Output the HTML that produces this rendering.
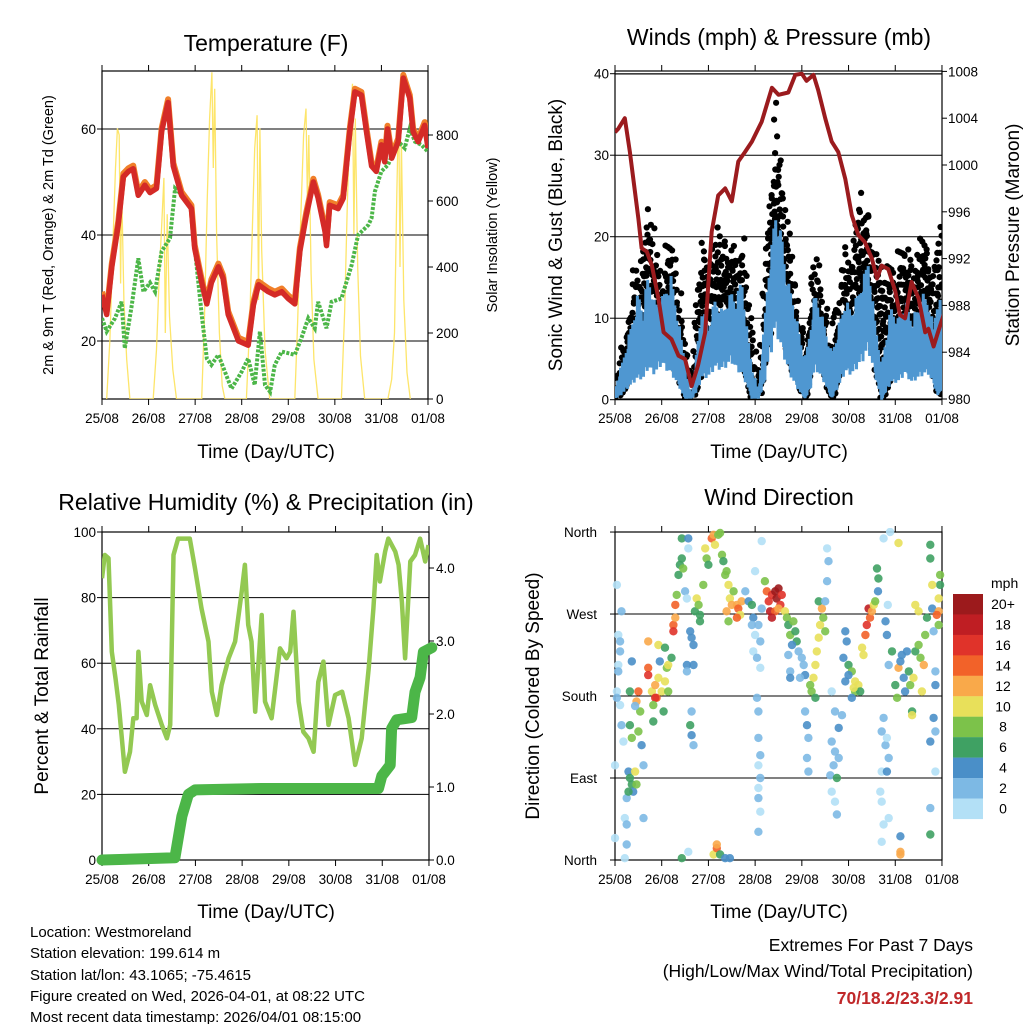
<!DOCTYPE html>
<html><head><meta charset="utf-8"><style>
html,body{margin:0;padding:0;background:#fff}
svg{display:block;font-family:"Liberation Sans",Arial,sans-serif}
</style></head><body>
<svg id="chart" width="1024" height="1024" viewBox="0 0 1024 1024" xmlns="http://www.w3.org/2000/svg">
<defs>
<clipPath id="c1"><rect x="102" y="71" width="326" height="328"/></clipPath>
<clipPath id="c2"><rect x="615" y="71" width="327" height="329"/></clipPath>
<clipPath id="c3"><rect x="102" y="532" width="327" height="328"/></clipPath>
<clipPath id="c4"><rect x="611" y="528" width="335" height="336"/></clipPath>
</defs>
<g id="layer"></g>
<text x="266" y="51" font-size="23" text-anchor="middle">Temperature (F)</text>
<text x="779" y="45" font-size="23" text-anchor="middle">Winds (mph) &amp; Pressure (mb)</text>
<text x="266" y="510" font-size="23" text-anchor="middle">Relative Humidity (%) &amp; Precipitation (in)</text>
<text x="779" y="505" font-size="23" text-anchor="middle">Wind Direction</text>
<text x="266" y="458" font-size="19" text-anchor="middle">Time (Day/UTC)</text>
<text x="779" y="458" font-size="19" text-anchor="middle">Time (Day/UTC)</text>
<text x="266" y="918" font-size="19" text-anchor="middle">Time (Day/UTC)</text>
<text x="779" y="918" font-size="19" text-anchor="middle">Time (Day/UTC)</text>
<text transform="translate(53,235) rotate(-90)" font-size="14.5" text-anchor="middle">2m &amp; 9m T (Red, Orange) &amp; 2m Td (Green)</text>
<text transform="translate(497,235) rotate(-90)" font-size="14.5" text-anchor="middle">Solar Insolation (Yellow)</text>
<text transform="translate(562,235) rotate(-90)" font-size="19" text-anchor="middle">Sonic Wind &amp; Gust (Blue, Black)</text>
<text transform="translate(1019,235) rotate(-90)" font-size="19" text-anchor="middle">Station Pressure (Maroon)</text>
<text transform="translate(48,696) rotate(-90)" font-size="19" text-anchor="middle">Percent &amp; Total Rainfall</text>
<text transform="translate(539,696) rotate(-90)" font-size="19" text-anchor="middle">Direction (Colored By Speed)</text>
<g font-size="15">
<text x="30" y="937">Location: Westmoreland</text>
<text x="30" y="958">Station elevation: 199.614 m</text>
<text x="30" y="980">Station lat/lon: 43.1065; -75.4615</text>
<text x="30" y="1001">Figure created on Wed, 2026-04-01, at 08:22 UTC</text>
<text x="30" y="1022">Most recent data timestamp: 2026/04/01 08:15:00</text>
</g>
<g font-size="17.5" text-anchor="end">
<text x="973" y="951">Extremes For Past 7 Days</text>
<text x="973" y="977">(High/Low/Max Wind/Total Precipitation)</text>
<text x="973" y="1004" fill="#c0282a" font-weight="bold">70/18.2/23.3/2.91</text>
</g>
</svg>
<script>
// ---------- data ----------
const dayLabels=["25/08","26/08","27/08","28/08","29/08","30/08","31/08","01/08"];
const tempDay=[0,0.10,0.21,0.35,0.46,0.57,0.67,0.78,0.92,1.03,1.17,1.28,1.42,1.53,1.71,1.92,1.99,2.14,2.25,2.35,2.50,2.60,2.71,2.93,3.14,3.25,3.36,3.57,3.71,3.86,4.00,4.14,4.25,4.39,4.54,4.64,4.79,4.82,4.89,5.07,5.18,5.32,5.43,5.57,5.68,5.79,5.89,6.00,6.07,6.13,6.22,6.36,6.47,6.61,6.68,6.79,6.93,7.00];
const temp2m=[28.7,25,34,42,51,52,52.5,47.5,49.4,48,48.8,59.5,65,53,47.5,45,37.5,31,27,31,34,31.8,25,20,19.2,26.8,30.6,29.3,28.7,29.3,28,27,37,43.8,50,47,40.6,38,45.6,45,46.9,59.5,67,66.4,59.5,53,52,57,53.8,60,54.5,57.6,69.6,65.8,59.5,57.6,60.7,56.4];
const dewDay=[0,0.10,0.28,0.42,0.49,0.64,0.78,0.89,1.03,1.14,1.28,1.46,1.57,1.78,1.92,2.00,2.14,2.25,2.35,2.50,2.64,2.78,3.00,3.14,3.28,3.39,3.50,3.61,3.71,3.86,4.14,4.28,4.43,4.57,4.64,4.82,4.93,5.14,5.36,5.50,5.72,5.79,5.86,6.00,6.14,6.36,6.50,6.61,6.72,6.86,7.00];
const dewVal=[24.3,21.8,24.3,27.4,18.6,26.8,35.6,29.3,31,29.3,36.9,39.4,48.8,47,45,36.9,25,16.7,15.5,17.4,14.2,11,14.2,16.7,11.7,21.8,11.7,10.4,15.5,18,17.4,20.5,24.3,22.4,27.4,22.4,27.4,28,34.3,40,41.9,43.2,48.2,52,53.2,57.6,56.4,60.1,57.6,57,55.7];
const solarDay=[0.10,0.17,0.23,0.29,0.33,0.37,0.40,0.42,0.47,0.53,0.60, 1.10,1.17,1.23,1.28,1.33,1.36,1.40,1.45,1.52,1.60, 2.14,2.20,2.26,2.31,2.36,2.39,2.42,2.46,2.52,2.58,2.64, 3.10,3.17,3.23,3.28,3.33,3.36,3.39,3.43,3.50,3.60, 4.14,4.20,4.27,4.33,4.38,4.41,4.44,4.49,4.55,4.64, 5.14,5.21,5.27,5.33,5.38,5.41,5.44,5.49,5.55,5.64, 6.14,6.22,6.28,6.33,6.37,6.40,6.43,6.48,6.55,6.62];
const solarVal=[0,180,450,700,820,800,350,650,300,120,0, 0,150,380,520,670,200,560,250,90,0, 0,250,600,850,990,700,940,500,200,40,0, 0,220,520,760,860,300,820,450,150,0, 0,230,560,800,880,600,800,380,120,0, 0,260,600,860,955,500,850,400,130,0, 0,60,200,620,895,400,780,300,80,0];
const windDay=[0,0.07,0.14,0.30,0.50,0.60,0.71,0.85,1.00,1.10,1.21,1.35,1.50,1.57,1.64,1.75,1.86,2.00,2.14,2.30,2.50,2.60,2.71,2.82,2.93,3.07,3.18,3.28,3.36,3.43,3.50,3.57,3.67,3.78,3.92,4.07,4.18,4.28,4.45,4.64,4.78,4.93,5.07,5.21,5.32,5.42,5.56,5.71,5.80,5.92,6.06,6.21,6.35,6.50,6.60,6.71,6.82,6.92,7.0];
const sonicHi=[1.4,3,4.3,8,13.3,11,15.7,12,12.4,14,15.3,10,5.1,2,0.5,6,11.6,9,12.4,11,13.3,12,15.7,9,4.3,1,8,15.7,19,23.5,21,20.6,15,13.3,9,5.1,9,13.3,10,5.9,9,12.4,11,13.3,15,17.3,10,4.3,8,11.6,10,12.4,10,11.6,13,12.4,9,14.5,10];
const sonicLo=[0.2,0.5,1,2.5,4.3,4,6.3,5,7.1,6,5.1,3,0.2,0.2,0.2,1.5,4.3,4.5,6.3,6,7.5,6,5.1,3,0.2,0.2,2.5,7.5,10,14.5,12,10,7,4.3,2,0.2,2,6.3,4,0.2,2.5,5.5,5,6.7,8,10,5,0,1.5,3.4,3.5,5.1,3.5,4.3,5,5.1,3,0.6,2];
const gustHi=[2.2,4,5.1,12,18.2,17,24.7,19,16.5,19,21,14,8.3,4,2.2,12,20.6,18,23.1,20,19.8,18,22.2,14,9.2,2.6,12,23.5,30,38.2,32,26.7,22,18.2,12,7.1,14,19,14,5.9,14,19,17,25.9,22,25.9,18,16.5,16,17.8,18,21,17,19,20,20.6,16,21.4,18];
const presDay=[0,0.07,0.21,0.32,0.50,0.57,0.68,0.79,0.93,1.04,1.21,1.36,1.50,1.64,1.78,1.93,2.07,2.21,2.36,2.50,2.64,2.78,2.93,3.14,3.36,3.50,3.71,3.86,4.00,4.10,4.25,4.35,4.50,4.64,4.78,4.93,5.07,5.21,5.35,5.50,5.61,5.71,5.85,6.00,6.10,6.21,6.35,6.50,6.64,6.71,6.82,6.93,7.07];
const presVal=[1002.8,1003.1,1004,1001.1,995.4,992.9,992.6,991.4,988.6,985.7,985.1,983.7,983.4,981.1,982.9,985.7,994.3,997.4,998,996.9,1000.3,1001.1,1002,1003.7,1006.6,1006,1006.2,1007.7,1007.8,1007.2,1007.7,1006.4,1004,1002,1001.1,998.8,995.7,994,993.4,992,990.3,991.4,991.1,989.2,987.2,986.9,990,988.6,985.7,986,984.5,985.9,987.6];
const rhDay=[0,0.06,0.14,0.21,0.29,0.36,0.49,0.60,0.67,0.74,0.78,0.85,0.96,1.03,1.14,1.28,1.39,1.46,1.53,1.63,1.88,1.99,2.13,2.28,2.35,2.46,2.56,2.71,2.85,2.99,3.06,3.13,3.20,3.28,3.42,3.49,3.63,3.70,3.81,3.95,4.03,4.10,4.21,4.31,4.42,4.53,4.63,4.74,4.85,4.99,5.14,5.28,5.42,5.56,5.71,5.81,5.88,5.95,6.06,6.13,6.28,6.35,6.42,6.49,6.60,6.70,6.81,6.92,6.99];
const rhVal=[85.9,93,92,63.5,55.4,47.3,26.9,33,43.2,43.2,63.5,48.3,44.2,53.3,47.3,41.2,37.1,41.2,93,98,98,88.9,76.7,66.6,51.3,44.2,53.3,61.5,66.6,81.8,90,71.7,66.6,45.2,74.7,48.3,43.2,51.3,64.5,61.5,63.5,75.7,48.3,39.1,37.1,33,54.3,60.5,41.2,50.3,51.3,43.2,29,37.1,58.4,76.7,93,84.9,94,98,94,90,78.7,61.5,91,93,98,91,96];
const rainDay=[0,1.56,1.71,1.85,1.99,3.42,5.92,5.99,6.17,6.20,6.31,6.63,6.70,6.81,6.88,7.06];
const rainVal=[0,0.03,0.6,0.9,0.96,0.98,0.98,1.15,1.3,1.8,1.92,1.95,2.3,2.5,2.85,2.91];
const dirDay=[0.04,0.07,0.11,0.07,0.04,0.11,0.14,0.0,0.18,0.21,0.25,0.25,0,0.21,0.14,0.11,0.07,0.04,
0.32,0.36,0.29,0.32,0.36,0.43,0.39,0.46,0.25,0.29,0.5,0.54,0.5,0.46,0.57,0.61,0.61,0.36,0.32,0.43,
0.71,0.71,0.71,0.79,0.86,0.93,0.89,0.86,0.82,1.0,1.07,1.11,1.14,0.96,0.93,1.04,0.82,1.14,1.21,1.07,
1.25,1.25,1.29,1.29,1.32,1.36,1.39,1.43,1.43,1.46,1.5,1.54,1.57,1.57,1.61,1.64,1.68,1.71,1.75,1.79,1.82,1.82,1.54,1.68,1.54,1.64,1.61,1.68,1.64,1.57,1.43,
1.89,1.93,1.96,2.0,2.07,2.11,2.14,2.21,2.25,2.29,2.32,2.36,2.39,2.43,2.46,2.39,2.43,2.5,2.54,2.61,2.64,2.71,2.68,2.61,2.11,2.18,2.25,2.36,2.46,2.18,
2.79,2.86,2.93,2.96,2.93,3.0,2.96,3.04,3.11,3.14,3.07,3.04,3.07,3.07,3.11,3.07,3.11,3.07,3.07,3.11,3.07,3.0,3.11,
3.21,3.25,3.29,3.32,3.36,3.43,3.46,3.5,3.54,3.57,3.43,3.36,3.5,3.64,3.68,3.71,3.75,3.82,3.86,3.89,3.79,3.71,3.75,3.75,3.14,
3.93,4.0,4.04,4.07,3.96,4.07,4.11,4.14,4.11,4.14,4.21,4.25,4.29,4.32,4.36,4.39,4.43,4.46,4.5,4.36,4.29,4.18,
4.54,4.57,4.54,4.5,4.64,4.71,4.79,4.64,4.71,4.68,4.61,4.75,4.64,4.71,4.75,4.79,4.86,4.93,4.96,4.89,5.0,5.07,5.14,5.21,5.14,5.07,5.25,4.93,5.0,5.11,
5.29,5.32,5.36,5.39,5.43,5.46,5.5,5.54,5.57,5.61,5.64,5.63,5.71,5.75,5.79,5.86,5.82,5.71,5.68,5.71,5.86,5.82,5.71,5.75,5.79,5.82,5.84,5.75,5.89,5.86,5.93,
6.0,6.04,6.07,6.11,6.14,6.18,6.21,6.25,6.29,6.32,6.36,6.36,6.39,6.43,6.5,6.54,6.61,6.57,6.64,6.68,6.75,6.75,6.79,6.82,6.86,6.86,6.82,6.86,6.75,6.86,6.93,6.93,6.96,6.93,6.89,6.96,6.79,6.07,6.11,6.11,6.11,6.75,6.75,6.5,6.43];
const dirDeg=[302,247,229,214,185,170,148,104,130,46,39,17,24,2,273,240,207,178,
148,134,97,90,83,97,75,83,68,75,141,163,185,174,126,104,46,218,185,169,
240,211,203,185,192,200,178,178,170,185,196,211,214,218,236,163,152,185,222,233,
258,251,280,266,291,313,324,331,353,320,295,287,353,342,251,244,236,273,287,280,269,262,214,214,207,163,148,126,137,9,2,
302,342,331,324,353,357,346,357,359,335,328,313,317,302,287,273,262,280,295,280,276,284,269,266,6,13,6,2,2,17,
295,284,280,266,258,247,229,222,211,350,258,178,163,134,115,104,90,79,68,53,31,317,240,
306,295,284,273,291,295,287,298,280,291,273,266,276,273,266,258,247,262,251,240,236,225,207,200,276,
229,222,214,203,200,163,148,134,112,97,185,200,214,229,244,258,276,266,251,284,178,192,
342,328,306,284,185,163,145,130,119,104,93,90,75,64,50,112,159,251,240,222,214,207,196,192,185,178,185,196,203,189,
233,225,247,258,276,266,273,280,284,320,309,295,141,156,126,112,134,97,75,64,46,97,20,39,262,247,280,353,360,214,229,
192,178,211,218,225,200,185,229,207,192,163,159,200,229,236,222,214,185,247,266,331,346,276,251,207,192,156,141,130,97,258,287,302,273,269,313,302,348,9,6,26,28,57,273,280];
const dirSpd=[1,1,2,1,1,1,2,1,1,1,3,3,1,1,2,3,2,2,
7,8,5,7,7,10,5,8,3,7,8,8,15,12,5,3,2,5,7,3,
12,15,16,10,12,10,14,16,8,11,10,8,10,5,11,7,7,8,7,7,
14,16,15,12,8,7,7,6,7,8,3,1,4,1,4,5,4,7,11,8,7,7,4,4,3,2,7,2,4,1,7,
8,11,8,7,14,12,10,8,8,8,7,8,9,10,11,13,8,12,9,13,14,12,10,14,11,14,7,5,5,12,
3,5,7,4,3,1,1,2,1,1,2,2,2,2,2,1,2,1,2,1,3,1,3,
8,15,16,18,17,21,21,20,17,16,14,18,13,10,8,7,8,8,7,7,5,3,3,5,3,
2,2,3,4,3,2,4,3,2,2,8,10,11,10,10,11,12,9,8,7,7,8,
1,2,3,3,1,2,4,2,2,2,3,7,1,1,2,3,2,5,4,4,7,8,10,11,8,4,7,4,4,11,
11,10,15,16,18,14,12,10,8,6,7,5,3,2,2,2,1,1,1,1,1,5,1,1,4,5,1,1,1,2,7,
7,8,13,5,4,4,5,4,7,8,6,10,10,7,9,9,12,11,8,7,6,6,4,3,2,4,4,2,4,1,9,10,7,13,14,8,10,11,13,12,5,6,2,11,10];
const speedLabels=["20+","18","16","14","12","10","8","6","4","2","0"];
const speedColors=["#9c1a1c","#bf1e23","#e0332a","#f26229","#f9a94a","#e8e05a","#7cc24a","#3fa163","#4a8fc8","#7db9e4","#b3e0f6"];
const dirLabels=["North","East","South","West","North"];
const dirTicks=[0,90,180,270,360];

// ---------- helpers ----------
const NS="http://www.w3.org/2000/svg";
const root=document.getElementById('layer');
function mk(tag,attrs,parent){const e=document.createElementNS(NS,tag);for(const k in attrs)e.setAttribute(k,attrs[k]);(parent||root).appendChild(e);return e;}
const x1=d=>102+d*46.57, yT=t=>447-5.3*t, yS=s=>399-0.33*s;
const x2=d=>615+d*46.71, yW=w=>399.7-8.15*w, yP=p=>399-(p-980)*11.7;
const x3=d=>102+d*46.71, yR=r=>860-3.28*r, yPr=p=>860-73*p;
const x4=d=>615+d*46.71, yD=g=>860-0.911*g;
function interp(xs,ys,x){if(x<=xs[0])return ys[0];for(let i=1;i<xs.length;i++){if(x<=xs[i]){const f=(x-xs[i-1])/(xs[i]-xs[i-1]);return ys[i-1]+f*(ys[i]-ys[i-1]);}}return ys[ys.length-1];}
function pathOf(xs,ys,fx,fy){return xs.map((v,i)=>(i?'L':'M')+fx(v).toFixed(1)+' '+fy(ys[i]).toFixed(1)).join('');}

function frame(name,L,T,R,B,xf){
  const g=mk('g',{});
  
  
  mk('rect',{x:L,y:T,width:R-L,height:B-T,fill:'none',stroke:'#000','stroke-width':1.2},g);
  dayLabels.forEach((lab,i)=>{const x=xf(i);
    mk('line',{x1:x,y1:B,x2:x,y2:B+6,stroke:'#000'},g);
    mk('line',{x1:x,y1:T,x2:x,y2:T-6,stroke:'#000'},g);
    const t=mk('text',{x:x,y:B+24,'font-size':13.5,'text-anchor':'middle'},g);t.textContent=lab;
    
    
  });
  return g;
}
function yAxis(g,vals,labs,fy,L,R,side,x,grid){
  vals.forEach((v,i)=>{const y=fy(v);
    if(grid) mk('line',{x1:L,y1:y,x2:R,y2:y,stroke:'#000','stroke-width':1},g);
    const tx=side==='l'?L:R;
    mk('line',{x1:tx,y1:y,x2:side==='l'?tx-5:tx+5,y2:y,stroke:'#000'},g);
    const t=mk('text',{x:x,y:y+5,'font-size':13.5,'text-anchor':side==='l'?'end':'start'},g);t.textContent=labs[i];
    
    
  });
}

// ---------- panel 1: temperature ----------
const g1=frame('temperature',102,71,428,399,x1);
yAxis(g1,[20,40,60],["20","40","60"],yT,102,428,'l',96,true);
yAxis(g1,[0,200,400,600,800],["0","200","400","600","800"],yS,102,428,'r',436,false);
const p1=mk('g',{'clip-path':'url(#c1)'});


const sol=mk('path',{d:pathOf(solarDay,solarVal,x1,yS),fill:'none',stroke:'#fde25a','stroke-width':1.3,opacity:0.9},p1);


const dew=mk('path',{d:pathOf(dewDay,dewVal,x1,yT),fill:'none',stroke:'#4cb648','stroke-width':4,'stroke-dasharray':'3 1.5'},p1);


const t9=mk('path',{d:pathOf(tempDay,temp2m.map(v=>v+0.6),x1,yT),fill:'none',stroke:'#f07f2a','stroke-width':6,'stroke-linejoin':'round'},p1);


const t2=mk('path',{d:pathOf(tempDay,temp2m,x1,yT),fill:'none',stroke:'#d42a27','stroke-width':5.5,'stroke-linejoin':'round'},p1);



// ---------- panel 2: winds ----------
const g2=frame('winds',615,71,942,399,x2);
yAxis(g2,[0,10,20,30,40],["0","10","20","30","40"],yW,615,942,'l',609,true);
yAxis(g2,[980,984,988,992,996,1000,1004,1008],["980","984","988","992","996","1000","1004","1008"],yP,615,942,'r',948,false);
const p2=mk('g',{'clip-path':'url(#c2)'});


const gustG=mk('g',{fill:'#000'},p2);


let k=0;
for(let d=0;d<=7;d+=0.025){
  const lo=interp(windDay,sonicLo,d), gu=interp(windDay,gustHi,d);
  const top=lo+(gu-lo)*(0.6+0.4*((k*37)%11)/10);
  const n=Math.max(1,Math.round((top-lo)/2));
  for(let j=0;j<=n;j++){k++;
    const w=lo+(top-lo)*j/n;
    const c=mk('circle',{cx:(x2(d)+((k*7)%5)-2).toFixed(1),cy:yW(w).toFixed(1),r:3.1},gustG);
    
    
  }
}
let zz='';let idx=0;
for(let d=0;d<=7;d+=0.01){idx++;
  const lo=interp(windDay,sonicLo,d), hi=interp(windDay,sonicHi,d);
  const v=idx%2?lo+(hi-lo)*(0.5+0.5*((idx*29)%9)/8):lo*(0.6+0.4*((idx*13)%7)/6);
  zz+=(idx===1?'M':'L')+x2(d).toFixed(1)+' '+yW(v).toFixed(1);
}
const son=mk('path',{d:zz,fill:'none',stroke:'#4f97d1','stroke-width':3},p2);


const pr=mk('path',{d:pathOf(presDay,presVal,x2,yP),fill:'none',stroke:'#9b1b1e','stroke-width':4,'stroke-linejoin':'round'},p2);


mk('line',{x1:615,y1:74,x2:942,y2:74,stroke:'#000'},g2);

// ---------- panel 3: humidity ----------
const g3=frame('humidity',102,532,429,860,x3);
yAxis(g3,[0,20,40,60,80,100],["0","20","40","60","80","100"],yR,102,429,'l',96,true);
yAxis(g3,[0,1,2,3,4],["0.0","1.0","2.0","3.0","4.0"],yPr,102,429,'r',436,false);
const p3=mk('g',{'clip-path':'url(#c3)'});


const rh=mk('path',{d:pathOf(rhDay,rhVal,x3,yR),fill:'none',stroke:'#93c952','stroke-width':4.5,'stroke-linejoin':'round'},p3);


const rn=mk('path',{d:pathOf(rainDay,rainVal,x3,yPr),fill:'none',stroke:'#4cb648','stroke-width':11,'stroke-linejoin':'round','stroke-linecap':'round'},g3);



// ---------- panel 4: direction ----------
const g4=frame('direction',615,532,942,860,x4);
yAxis(g4,dirTicks,dirLabels,yD,615,942,'l',597,true);
const p4=mk('g',{'clip-path':'url(#c4)'});


function spdColor(s){let b=Math.min(10,Math.floor(s/2));return speedColors[10-b];}
dirDay.forEach((d,i)=>{
  const c=mk('circle',{cx:x4(d).toFixed(1),cy:yD(Math.min(360,dirDeg[i])).toFixed(1),r:4.2,fill:spdColor(dirSpd[i]),opacity:0.9},p4);
  
  
});
const cb=mk('g',{});


const cbT=mk('text',{x:991,y:588,'font-size':14},cb);cbT.textContent='mph';
speedLabels.forEach((lab,i)=>{
  const r=mk('rect',{x:953,y:594+i*20.45,width:30,height:20.6,fill:speedColors[i]},cb);
  
  
  const t=mk('text',{x:1003,y:594+i*20.45+15,'font-size':14,'text-anchor':'middle'},cb);t.textContent=lab;
  
  
});
</script>
</body></html>
